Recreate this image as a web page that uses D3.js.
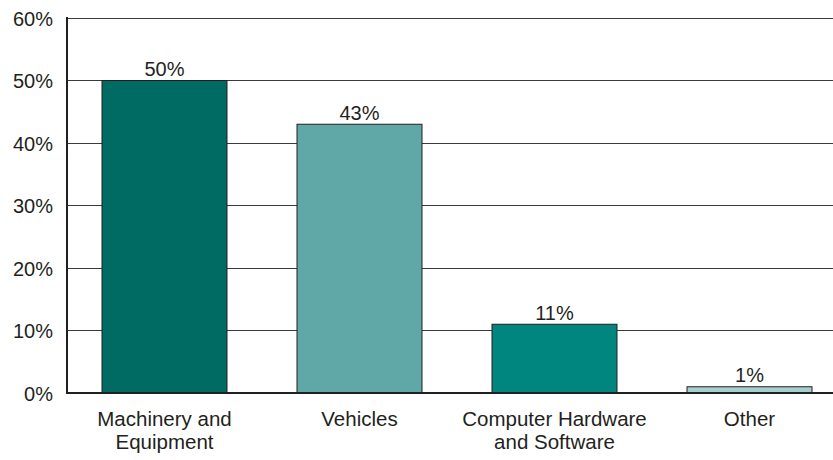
<!DOCTYPE html>
<html><head><meta charset="utf-8">
<script src="https://cdn.jsdelivr.net/npm/d3@7"></script>
<style>body{margin:0;background:#fff}svg{display:block}text{font-family:"Liberation Sans",Arial,sans-serif;fill:#231f20}</style>
</head><body><svg id="c" width="833" height="460"></svg>
<script>
const categories = [["Machinery and","Equipment"],["Vehicles"],["Computer Hardware","and Software"],["Other"]];
const values = [50, 43, 11, 1];
const colors = ["#006b63", "#5fa8a7", "#00857f", "#a3cfcf"];
const yTicks = [0, 10, 20, 30, 40, 50, 60];

const svg = d3.select("#c");
const mLeft = 67, mTop = 18, mBottom = 393;
const x = d3.scaleBand().domain(d3.range(categories.length)).range([mLeft, mLeft + 780]).paddingInner(0.359).paddingOuter(0.1795);
const y = d3.scaleLinear().domain([0, 60]).range([mBottom, mTop]);

// gridlines
svg.append("g").selectAll("line").data(yTicks.filter(t => t > 0)).join("line")
  .attr("x1", mLeft).attr("x2", 833).attr("y1", d => y(d)).attr("y2", d => y(d))
  .attr("stroke", "#3a3a3a").attr("stroke-width", 1).attr("shape-rendering","crispEdges");

// bars
svg.append("g").selectAll("rect").data(values).join("rect")
  .attr("x", (d,i) => x(i)).attr("width", x.bandwidth())
  .attr("y", d => y(d)).attr("height", d => mBottom - y(d))
  .attr("fill", (d,i) => colors[i]).attr("stroke", "#231f20").attr("stroke-width", 1);

// value labels
svg.append("g").selectAll("text").data(values).join("text")
  .attr("x", (d,i) => x(i) + x.bandwidth()/2).attr("y", d => y(d) - 4.5)
  .attr("text-anchor", "middle").attr("font-size", 20).text(d => d + "%");

// axes lines
svg.append("line").attr("x1", mLeft).attr("x2", mLeft).attr("y1", mTop - 1).attr("y2", mBottom + 1)
  .attr("stroke", "#231f20").attr("stroke-width", 2);
svg.append("line").attr("x1", mLeft - 1).attr("x2", 833).attr("y1", mBottom).attr("y2", mBottom)
  .attr("stroke", "#231f20").attr("stroke-width", 2.2);

// y tick labels
svg.append("g").selectAll("text").data(yTicks).join("text")
  .attr("x", 53).attr("y", d => y(d) + 7.5)
  .attr("text-anchor", "end").attr("font-size", 20).text(d => d + "%");

// category labels
const cg = svg.append("g").selectAll("text").data(categories).join("text")
  .attr("text-anchor", "middle").attr("font-size", 20.5)
  .attr("x", (d,i) => x(i) + x.bandwidth()/2).attr("y", 426);
cg.selectAll("tspan").data(d => d).join("tspan")
  .attr("x", function(){ return this.parentNode.getAttribute("x"); })
  .attr("dy", (d,j) => j === 0 ? 0 : 23).text(d => d);
</script></body></html>
